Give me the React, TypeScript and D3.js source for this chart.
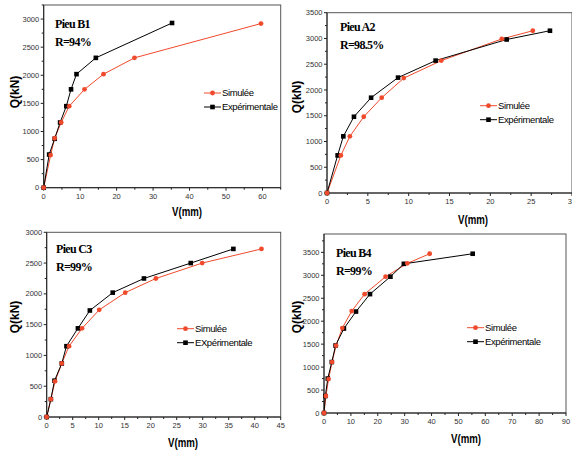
import * as d3 from 'd3';

// Pieu B1
const b1SimV = [0, 1.9, 3.0, 4.8, 7.0, 11.2, 16.4, 24.9, 59.6];
const b1SimQ = [0, 580, 880, 1160, 1450, 1750, 2020, 2310, 2920];
const b1ExpV = [0, 1.5, 3.0, 4.5, 6.2, 7.5, 9.0, 14.3, 35.2];
const b1ExpQ = [0, 590, 870, 1160, 1450, 1750, 2020, 2310, 2930];

// Pieu A2
const a2SimV = [0, 1.7, 2.8, 4.5, 6.7, 9.4, 14.0, 21.4, 25.2];
const a2SimQ = [0, 730, 1100, 1480, 1850, 2230, 2570, 2990, 3150];
const a2ExpV = [0, 1.3, 2.0, 3.3, 5.4, 8.7, 13.3, 22.0, 27.3];
const a2ExpQ = [0, 730, 1100, 1480, 1850, 2240, 2570, 2980, 3150];

// Pieu C3
const c3SimV = [0, 0.8, 1.6, 2.9, 4.3, 6.8, 10.1, 15.1, 21.0, 29.9, 41.3];
const c3SimQ = [0, 290, 580, 870, 1150, 1440, 1740, 2020, 2250, 2500, 2730];
const c3ExpV = [0, 0.8, 1.5, 2.9, 3.8, 6.0, 8.3, 12.7, 18.7, 27.7, 35.9];
const c3ExpQ = [0, 290, 590, 870, 1150, 1440, 1730, 2020, 2250, 2500, 2730];

// Pieu B4
const b4SimV = [0, 0.7, 1.7, 3.0, 4.5, 6.8, 10.3, 15.1, 22.9, 31.0, 39.3];
const b4SimQ = [0, 370, 740, 1110, 1470, 1850, 2220, 2590, 2970, 3260, 3470];
const b4ExpV = [0, 0.5, 1.4, 2.9, 4.3, 7.4, 11.9, 17.1, 24.7, 29.7, 55.3];
const b4ExpQ = [0, 370, 750, 1110, 1470, 1840, 2210, 2590, 2970, 3250, 3470];

const RED = '#f04a2c';
const SANS = '"Liberation Sans", Arial, sans-serif';
const SERIF = '"Liberation Serif", "Times New Roman", serif';

const zip = (v: number[], q: number[]) => v.map((d, i) => [d, q[i]] as [number, number]);

type PanelProps = {
  box: { left: number; right: number; top: number; bottom: number };
  x: { max: number; major: number; last: number };
  y: { max: number; major: number; last: number };
  title: string;
  r: string;
  titlePos: [number, number];
  legendPos: [number, number];
  expLabel: string;
  sim: [number, number][];
  exp: [number, number][];
  qPos: [number, number];
  vPos: [number, number];
};

function Panel(p: PanelProps) {
  const { left, right, top, bottom } = p.box;
  const x = d3.scaleLinear().domain([0, p.x.max]).range([left, right]);
  const y = d3.scaleLinear().domain([0, p.y.max]).range([bottom, top]);
  const xMajor = d3.range(0, p.x.last + 1e-6, p.x.major);
  const xMinor = d3.range(p.x.major / 2, p.x.max + 1e-6, p.x.major);
  const yMajor = d3.range(0, p.y.last + 1e-6, p.y.major);
  const yMinor = d3.range(p.y.major / 2, p.y.max + 1e-6, p.y.major);
  const line = d3.line<[number, number]>().x(d => x(d[0])).y(d => y(d[1]));
  const [lx, ly] = p.legendPos;

  return (
    <g>
      <rect x={left} y={top} width={right - left} height={bottom - top} fill="none" stroke="#555" strokeWidth={1} />
      <line x1={left} x2={right} y1={bottom} y2={bottom} stroke="#222" />
      <line x1={left} x2={left} y1={top} y2={bottom} stroke="#222" />
      {xMajor.map(t => (
        <g key={'xm' + t}>
          <line x1={x(t)} x2={x(t)} y1={bottom} y2={bottom + 3} stroke="#222" />
          <text x={x(t)} y={bottom + 11} fontSize={7.5} fontFamily={SANS} fill="#333" textAnchor="middle">{t}</text>
        </g>
      ))}
      {xMinor.map(t => (
        <line key={'xn' + t} x1={x(t)} x2={x(t)} y1={bottom} y2={bottom + 2} stroke="#222" />
      ))}
      {yMajor.map(t => (
        <g key={'ym' + t}>
          <line x1={left - 3} x2={left} y1={y(t)} y2={y(t)} stroke="#222" />
          <text x={left - 4.5} y={y(t) + 2.6} fontSize={7.5} fontFamily={SANS} fill="#333" textAnchor="end">{t}</text>
        </g>
      ))}
      {yMinor.map(t => (
        <line key={'yn' + t} x1={left - 2} x2={left} y1={y(t)} y2={y(t)} stroke="#222" />
      ))}

      <path d={line(p.sim) ?? ''} fill="none" stroke={RED} strokeWidth={1} />
      <path d={line(p.exp) ?? ''} fill="none" stroke="#000" strokeWidth={1} />
      {p.exp.map((d, i) => (
        <rect key={'e' + i} x={x(d[0]) - 2.3} y={y(d[1]) - 2.3} width={4.6} height={4.6} fill="#000" />
      ))}
      {p.sim.map((d, i) => (
        <circle key={'s' + i} cx={x(d[0])} cy={y(d[1])} r={2.4} fill={RED} />
      ))}

      <text x={p.titlePos[0]} y={p.titlePos[1]} fontSize={12} fontWeight="bold" fontFamily={SERIF} letterSpacing={-0.7}>{p.title}</text>
      <text x={p.titlePos[0]} y={p.titlePos[1] + 18} fontSize={12} fontWeight="bold" fontFamily={SERIF} letterSpacing={-0.7}>{p.r}</text>

      <line x1={lx} x2={lx + 17} y1={ly} y2={ly} stroke={RED} />
      <circle cx={lx + 8.5} cy={ly} r={2.4} fill={RED} />
      <text x={lx + 18} y={ly + 3.3} fontSize={9.5} fontFamily={SANS} letterSpacing={-0.4}>Simulée</text>
      <line x1={lx} x2={lx + 17} y1={ly + 14} y2={ly + 14} stroke="#000" />
      <rect x={lx + 6.2} y={ly + 11.7} width={4.6} height={4.6} fill="#000" />
      <text x={lx + 18} y={ly + 17.3} fontSize={9.5} fontFamily={SANS} letterSpacing={-0.4}>{p.expLabel}</text>

      <text transform={`translate(${p.qPos[0]},${p.qPos[1]}) rotate(-90)`} textAnchor="middle" fontSize={12} fontWeight="bold" fontFamily={SANS}>Q(kN)</text>
      <text x={p.vPos[0]} y={p.vPos[1]} textAnchor="middle" fontSize={12} fontWeight="bold" fontFamily={SANS} textLength={30} lengthAdjust="spacingAndGlyphs">V(mm)</text>
    </g>
  );
}

export default function App() {
  return (
    <svg width={572} height={453} style={{ position: 'absolute', left: 0, top: 0, background: '#fff' }}>
      <Panel
        box={{ left: 43.7, right: 280.7, top: 5, bottom: 187.7 }}
        x={{ max: 65, major: 10, last: 60 }}
        y={{ max: 3250, major: 500, last: 3000 }}
        title="Pieu B1" r="R=94%" titlePos={[55, 28]}
        legendPos={[204, 93]} expLabel="Expérimentale"
        sim={zip(b1SimV, b1SimQ)} exp={zip(b1ExpV, b1ExpQ)}
        qPos={[19, 92]} vPos={[187, 216]}
      />
      <Panel
        box={{ left: 327, right: 572, top: 12.7, bottom: 193 }}
        x={{ max: 30, major: 5, last: 30 }}
        y={{ max: 3500, major: 500, last: 3500 }}
        title="Pieu A2" r="R=98.5%" titlePos={[340, 31]}
        legendPos={[480, 105.7]} expLabel="Expérimentale"
        sim={zip(a2SimV, a2SimQ)} exp={zip(a2ExpV, a2ExpQ)}
        qPos={[301, 97]} vPos={[473, 224]}
      />
      <Panel
        box={{ left: 46.7, right: 280.7, top: 232.3, bottom: 417 }}
        x={{ max: 45, major: 5, last: 45 }}
        y={{ max: 3000, major: 500, last: 3000 }}
        title="Pieu C3" r="R=99%" titlePos={[56, 253]}
        legendPos={[177, 328.7]} expLabel="EXpérimentale"
        sim={zip(c3SimV, c3SimQ)} exp={zip(c3ExpV, c3ExpQ)}
        qPos={[19, 317]} vPos={[183, 447]}
      />
      <Panel
        box={{ left: 324, right: 566, top: 234, bottom: 413 }}
        x={{ max: 90, major: 10, last: 90 }}
        y={{ max: 3900, major: 500, last: 3500 }}
        title="Pieu B4" r="R=99%" titlePos={[336, 257]}
        legendPos={[467, 327.7]} expLabel="Expérimentale"
        sim={zip(b4SimV, b4SimQ)} exp={zip(b4ExpV, b4ExpQ)}
        qPos={[301, 317]} vPos={[466, 443]}
      />
    </svg>
  );
}
